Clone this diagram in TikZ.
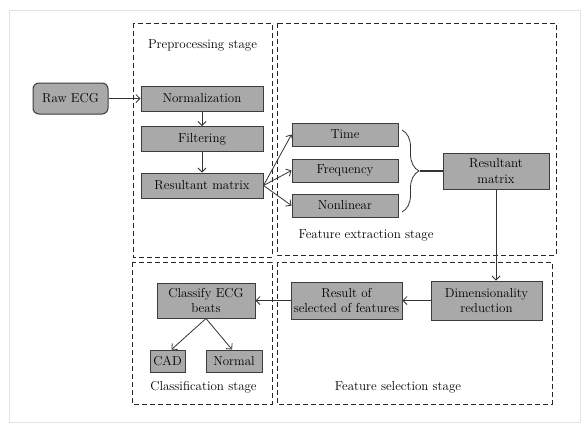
\documentclass[tikz,border=0pt]{standalone}
\usepackage{tikz}
\usetikzlibrary{arrows.meta,positioning,calc,decorations.pathreplacing}
\definecolor{boxgrey}{HTML}{A9A9A9}
\definecolor{edgegrey}{HTML}{3C3C3C}
\definecolor{framegrey}{HTML}{E2E2E2}
\tikzset{
  block/.style      = {draw=edgegrey, line width=1pt, fill=boxgrey, inner sep=1pt, align=center},
  stage/.style      = {draw=black!85, line width=0.9pt, dash pattern=on 5pt off 3pt},
  sig/.style        = {-{Straight Barb[length=4pt,width=8pt]}, line width=0.8pt, draw=black!80},
  wire/.style       = {line width=0.8pt, draw=black!80},
  every node/.style = {font=\fontsize{13}{15.5}\selectfont},
  lbl/.style        = {inner sep=1pt},
}
\begin{document}
\begin{tikzpicture}[x=1pt, y=-1pt]
  \useasboundingbox[fill=white] (0,0) rectangle (587,426);
  \draw[framegrey, line width=1pt] (9.5,10) rectangle (580,422);
  \draw[stage] (133,23) rectangle (272,257);
  \draw[stage] (277,23) rectangle (556,255);
  \draw[stage] (132,262) rectangle (272,404);
  \draw[stage] (277,262) rectangle (552,404);
  \node[lbl] (pre)  at (202.5,45) {Preprocessing stage};
  \node[lbl] (fext) at (366,235)  {Feature extraction stage};
  \node[lbl] (clst) at (203.5,387) {Classification stage};
  \node[lbl] (fsel) at (398,387)  {Feature selection stage};
  \node[block, rounded corners=6pt, minimum width=75pt, minimum height=31pt] (raw) at (70.5,98.5) {Raw ECG};
  \node[block, minimum width=122pt, minimum height=25pt] (norm) at (202,98.5) {Normalization};
  \node[block, minimum width=122pt, minimum height=25pt] (filt) at (202,139) {Filtering};
  \node[block, minimum width=122pt, minimum height=25pt] (rm)   at (202,185.5) {Resultant matrix};
  \node[block, minimum width=106pt, minimum height=23pt] (time) at (345,134.5) {Time};
  \node[block, minimum width=106pt, minimum height=23pt] (freq) at (345,170.5) {Frequency};
  \node[block, minimum width=106pt, minimum height=23pt] (nonl) at (345,205.5) {Nonlinear};
  \node[block, minimum width=106pt, minimum height=36pt] (rmb)  at (496,171) {Resultant\\matrix};
  \node[block, minimum width=111pt, minimum height=39pt] (dim)  at (486.5,300.5) {Dimensionality\\reduction};
  \node[block, minimum width=111pt, minimum height=37pt] (res)  at (346.5,300.5) {Result of\\selected of features};
  \node[block, minimum width=98pt, minimum height=35pt]  (cls)  at (206,300.5) {Classify ECG\\beats};
  \node[block, minimum width=35pt, minimum height=22pt]  (cad)  at (167.5,361) {CAD};
  \node[block, minimum width=56pt, minimum height=22pt]  (nrm)  at (234,361) {Normal};
  \coordinate (brtop) at (402,130);
  \coordinate (brbot) at (402,212);
  \coordinate (brtip) at (420,171);
  \draw[sig] (raw) -- (norm);
  \draw[sig] (norm) -- (filt);
  \draw[sig] (filt) -- (rm);
  \draw[sig] (rm.east) -- (time.west);
  \draw[sig] (rm.east) -- (freq.west);
  \draw[sig] (rm.east) -- (nonl.west);
  \draw[wire, decorate, decoration={brace, amplitude=17pt, aspect=0.5}] (brtop) -- (brbot);
  \draw[wire, line width=1.3pt] (brtip) -- (rmb.west |- brtip);
  \draw[sig] (rmb.south) -- (rmb.south |- dim.north);
  \draw[sig] (dim) -- (res);
  \draw[sig] (res) -- (cls);
  \draw[sig] (cls.south) -- ($(cad.north)+(4,0)$);
  \draw[sig] (cls.south) -- ($(nrm.north)+(-2,0)$);
\end{tikzpicture}
\end{document}
